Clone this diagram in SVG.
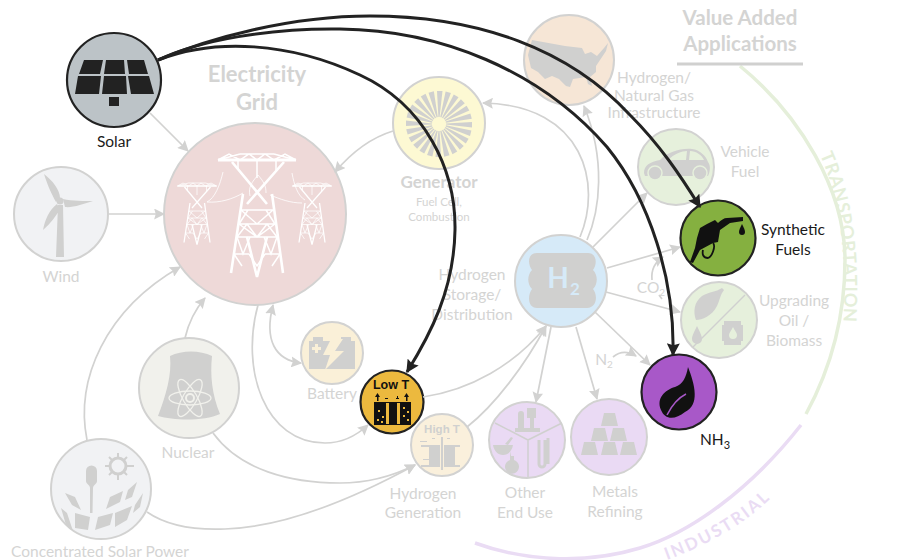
<svg xmlns="http://www.w3.org/2000/svg" xmlns:xlink="http://www.w3.org/1999/xlink" width="907" height="560" viewBox="0 0 907 560">
<style>
text{font-family:"Lato","Open Sans","Liberation Sans",sans-serif;text-anchor:middle}
.l{font-size:15.5px;fill:#d4d4d3}
.k{font-size:15.5px;fill:#1a1a1a}
.h{font-size:22px;font-weight:700;fill:#d4d4d3}
.ic{fill:#d0d0cf}
.n{stroke:#d2d2d1;stroke-width:2}
.d{stroke:#222;stroke-width:2.2}
.g{fill:none;stroke:#d2d2d1;stroke-width:1.7}
.b{fill:none;stroke:#222;stroke-width:3}
.ag{fill:none;stroke-width:3.5}
</style>
<defs>
<marker id="ga" viewBox="0 0 10 10" refX="9" refY="5" markerWidth="11" markerHeight="11" markerUnits="userSpaceOnUse" orient="auto-start-reverse"><path d="M0,0L10,5L0,10L1.5,5z" fill="#d2d2d1"/></marker>
<marker id="ba" viewBox="0 0 10 10" refX="9" refY="5" markerWidth="13" markerHeight="13" markerUnits="userSpaceOnUse" orient="auto"><path d="M0,0L10,5L0,10L1.5,5z" fill="#222"/></marker>
<g id="tower" fill="none" stroke="#fff" stroke-width="1.500">
<path stroke-width="3" d="M-39,6H39"/>
<path d="M-17,0H17M-39,6L-17,0M39,6L17,0M-39,6L-28,0L-17,6L-8,0L0,6L8,0L17,6L28,0L39,6"/>
<path stroke-width="2.600" d="M-25,8L10,50M27,8L-10,50M-14,40L-26,119M15,40L26,119M-10,83L0,123L10,83"/>
<path d="M-16,56H16M-18,70H18M-20,83H20M-23,100H-8M8,100H23M-16,56L0,70L16,56M-18,70L0,83L18,70M-18,70L-9,56M18,70L9,56M-20,83L-10,70L0,83L10,70L20,83M-20,83L-14,100L-7,83M20,83L14,100L7,83M-8,100L0,112L8,100M-23,100L-15,112M23,100L15,112M0,6V24M-19,6V16M19,6V16"/>
</g>
<polygon id="blade" points="-0.600,-7 0.600,-7 3.500,-33 -2,-33"/>
<path id="bar" d="M3,0H14L17,13H0z"/>
</defs>

<g id="arcs">
<path class="ag" stroke="#e5efda" d="M740,66C800,115 845,190 845,260C845,320 830,370 806,414"/>
<path class="ag" stroke="#eadcf4" d="M475,543C530,563 590,563 640,548C690,533 750,490 801,425"/>
<path id="tp" fill="none" d="M820,155C838,195 848,250 843,332"/>
<path id="ip" fill="none" d="M667,560C700,548 740,528 770,499"/>
<text font-size="18" font-weight="700" fill="#e5efda" letter-spacing=".7" style="text-anchor:start"><textPath href="#tp" xlink:href="#tp">TRANSPORTATION</textPath></text>
<text font-size="17" font-weight="700" fill="#eadcf4" letter-spacing="2.300" style="text-anchor:start"><textPath href="#ip" xlink:href="#ip">INDUSTRIAL</textPath></text>
</g>

<g id="heading">
<text class="h" x="257" y="82">Electricity</text><text class="h" x="257" y="110">Grid</text>
<text class="h" x="740" y="25" style="font-size:20.5px">Value Added</text><text class="h" x="740" y="51" style="font-size:20.5px">Applications</text>
<path d="M677,64H803" stroke="#d0d0cf" stroke-width="3"/>
</g>

<g id="solar">
<circle class="d" cx="114" cy="80" r="47" fill="#bcc3c7"/>
<path fill="#222" d="M84,60H103L100,74H79zM106,60H124L125,74H104zM127,60H144L148,74H129zM78,76H101L99,94H75zM104,76H126L127,94H102zM128,76H149L154,94H131zM109,97H119V106H109z"/>
<text class="k" x="114" y="147">Solar</text>
</g>

<g id="grid">
<circle class="n" cx="255" cy="214" r="91" fill="#eed9d8"/>
<use href="#tower" xlink:href="#tower" transform="translate(257,154)"/>
<use href="#tower" xlink:href="#tower" transform="translate(197,183) scale(.5)"/>
<use href="#tower" xlink:href="#tower" transform="translate(312,183) scale(.5)"/>
<path fill="none" stroke="#fff" stroke-width=".8" d="M223,172C220,185 215,198 207,202M292,173C294,185 298,196 305,200M207,202C220,203 233,199 243,193M302,203C290,203 280,199 270,195M258,175C252,182 248,187 250,196M258,175C264,182 266,186 266,193"/>
</g>

<g id="wind">
<circle class="n" cx="61" cy="214" r="47" fill="#f1f2f4"/>
<path class="ic" d="M58,205H63L64,257H56zM44,174C52,180 60,190 60,198L56,202C52,195 47,184 44,174zM63,199C72,201 85,201 93,201C84,204 72,208 65,207zM43,230C45,220 49,210 57,204L60,209C56,216 50,224 43,230z"/>
<circle class="ic" cx="60" cy="201" r="3.5"/>
<text class="l" x="61" y="282">Wind</text>
</g>

<g id="generator">
<circle class="n" cx="439" cy="123" r="46" fill="#fdf9d3"/>
<g class="ic" transform="translate(439,124)">
<use href="#blade" xlink:href="#blade"/><use href="#blade" xlink:href="#blade" transform="rotate(15)"/><use href="#blade" xlink:href="#blade" transform="rotate(30)"/><use href="#blade" xlink:href="#blade" transform="rotate(45)"/><use href="#blade" xlink:href="#blade" transform="rotate(60)"/><use href="#blade" xlink:href="#blade" transform="rotate(75)"/><use href="#blade" xlink:href="#blade" transform="rotate(90)"/><use href="#blade" xlink:href="#blade" transform="rotate(105)"/><use href="#blade" xlink:href="#blade" transform="rotate(120)"/><use href="#blade" xlink:href="#blade" transform="rotate(135)"/><use href="#blade" xlink:href="#blade" transform="rotate(150)"/><use href="#blade" xlink:href="#blade" transform="rotate(165)"/><use href="#blade" xlink:href="#blade" transform="rotate(180)"/><use href="#blade" xlink:href="#blade" transform="rotate(195)"/><use href="#blade" xlink:href="#blade" transform="rotate(210)"/><use href="#blade" xlink:href="#blade" transform="rotate(225)"/><use href="#blade" xlink:href="#blade" transform="rotate(240)"/><use href="#blade" xlink:href="#blade" transform="rotate(255)"/><use href="#blade" xlink:href="#blade" transform="rotate(270)"/><use href="#blade" xlink:href="#blade" transform="rotate(285)"/><use href="#blade" xlink:href="#blade" transform="rotate(300)"/><use href="#blade" xlink:href="#blade" transform="rotate(315)"/><use href="#blade" xlink:href="#blade" transform="rotate(330)"/><use href="#blade" xlink:href="#blade" transform="rotate(345)"/>
</g>
<text class="h" x="439" y="188" style="font-size:17px">Generator</text>
<text class="l" x="439" y="206" style="font-size:11.5px">Fuel Cell,</text><text class="l" x="439" y="221" style="font-size:11.5px">Combustion</text>
</g>

<g id="infrastructure">
<circle class="n" cx="569" cy="60" r="45" fill="#f6e6d6"/>
<polygon class="ic" points="532,40 565,46 582,48 585,54 591,52 597,56 604,48 608,43 606,51 600,60 596,66 596,72 590,77 592,86 588,84 586,77 573,79 570,87 566,86 559,79 552,76 545,79 538,72 531,68 528,55"/>
<text class="l" x="654" y="83">Hydrogen/</text><text class="l" x="654" y="101">Natural Gas</text><text class="l" x="654" y="118">Infrastructure</text>
</g>

<g id="vehicle">
<circle class="n" cx="676" cy="167" r="38" fill="#e6f0dc"/>
<path class="ic" d="M644,173C644,165 650,162 660,160C668,152 680,148 692,149C700,150 706,156 708,162C711,166 710,172 708,176H645z"/>
<path fill="#e6f0dc" d="M668,160C674,154 682,151 687,151L686,160zM690,151C696,151 702,155 704,160H689z"/>
<circle class="ic" cx="655" cy="173" r="7" stroke="#e6f0dc" stroke-width="1.500"/><circle class="ic" cx="700" cy="173" r="7" stroke="#e6f0dc" stroke-width="1.500"/>
<text class="l" x="745" y="157">Vehicle</text><text class="l" x="745" y="177">Fuel</text>
</g>

<g id="synthetic-fuels">
<circle class="d" cx="718" cy="238" r="37.5" fill="#85b040"/>
<path fill="#111" d="M707,224L715,220L718,223C721,220 724,218 727,218L743,217V221L730,223L720,230L718,242L713,243L700,250L693,263L690,262L695,248L697,238L700,228z"/>
<path fill="none" stroke="#111" stroke-width="1.800" d="M713,243C716,246 712,257 708,258C703,258 702,254 703,250"/>
<path fill="#111" d="M742,224C744,228 745,230 745,232A3,3 0 0 1 739,232C739,230 740,228 742,224z"/>
<text class="k" x="793" y="235">Synthetic</text><text class="k" x="793" y="255">Fuels</text>
</g>

<g id="upgrading">
<circle class="n" cx="719" cy="320" r="38" fill="#e6f0dc"/>
<path d="M745,295L693,347" stroke="#d0d0cf" stroke-width="1.500"/>
<path class="ic" d="M722,288C716,292 708,292 702,296C694,302 693,312 696,320C702,320 712,316 717,306C720,300 720,295 724,290z"/>
<path class="ic" d="M697,326C700,332 702,336 702,339A5,5 0 0 1 692,339C692,336 694,332 697,326zM724,321H741V325H743V341H741V345H724V341H722V325H724z"/>
<path fill="#e6f0dc" d="M733,327C735,331 737,333 737,335A4,4 0 0 1 729,335C729,333 731,331 733,327z"/>
<text class="l" x="794" y="306">Upgrading</text><text class="l" x="794" y="326">Oil /</text><text class="l" x="794" y="346">Biomass</text>
</g>

<g id="nh3">
<circle class="d" cx="679" cy="392" r="37.5" fill="#a858c8"/>
<path fill="#111" d="M688,367C695,385 700,405 685,412C675,420 665,420 661,410C656,398 665,390 675,387C683,384 686,378 688,367z"/>
<path fill="none" stroke="#a858c8" stroke-width="1.500" d="M667,415C672,405 678,398 686,394"/>
<text class="k" x="715" y="445">NH<tspan font-size="11" dy="4">3</tspan></text>
</g>

<g id="h2">
<circle class="n" cx="561" cy="281" r="46" fill="#d6eaf8"/>
<path class="ic" d="M537,253H588C596,253 598,263 593,270C598,275 598,284 593,289C598,295 597,308 587,308H537C528,308 527,296 532,289C527,284 527,275 532,270C527,263 528,253 537,253z"/>
<text x="558" y="288" font-size="28" font-weight="700" fill="#d6eaf8">H</text>
<text x="575" y="295" font-size="17" font-weight="700" fill="#d6eaf8">2</text>
<text class="l" x="472" y="280">Hydrogen</text><text class="l" x="472" y="300">Storage/</text><text class="l" x="472" y="320">Distribution</text>
</g>

<g id="battery">
<circle class="n" cx="332" cy="353" r="31" fill="#faf0d8"/>
<path class="ic" d="M309,341V369H355V341H351V337H341V341H323V337H313V341z"/>
<path fill="#faf0d8" d="M331,339H343L335,351H344L325,370L330,355H323zM315,344H318V347H321V350H318V353H315V350H312V347H315z"/>
<text class="l" x="332" y="399">Battery</text>
</g>

<g id="low-t">
<circle class="d" cx="392" cy="402" r="31.5" fill="#ecb93e"/>
<text x="391" y="389" font-size="12.500" font-weight="700" fill="#111" style="font-family:'Liberation Sans',sans-serif">Low T</text>
<path fill="#111" d="M374,402H411V425H374z"/>
<path fill="#ecb93e" d="M386,403H389V424H386zM397,403H400V424H397zM378,410h2v2h-2zM382,416h2v2h-2zM377,419h2v2h-2zM381,421h2v2h-2zM403,407h2v2h-2zM407,411h2v2h-2zM403,415h2v2h-2zM407,419h2v2h-2z"/>
<path fill="#111" d="M377,401V397H375L377.500,393L380,397H378.500V401zM406,401V397H404L406.500,393L409,397H407.500V401zM385,398h3v1h-3zM396,398h3v1h-3zM397,396h1v3h-1z"/>
</g>

<g id="high-t">
<circle class="n" cx="442" cy="445" r="31" fill="#faf0dc"/>
<text x="442" y="433" font-size="11.500" font-weight="700" fill="#d0d0cf" style="font-family:'Liberation Sans',sans-serif">High T</text>
<path class="ic" d="M429,445H440V467H429zM444,445H455V467H444zM441,437h2v33h-2zM421,445H429V447H421zM455,445H460V447H455zM421,465H429V467H421zM455,465H460V467H455zM420,441h7v1h-7zM423,459h7v1h-7zM432,438h3v1h-3zM447,438h3v1h-3z"/>
<text class="l" x="423" y="499">Hydrogen</text><text class="l" x="423" y="518">Generation</text>
</g>

<g id="nuclear">
<circle class="n" cx="189" cy="388" r="50" fill="#f1f1ec"/>
<path class="ic" d="M170,356C182,350 200,350 212,356C210,375 212,395 220,414C205,421 175,421 158,416C166,395 172,375 170,356z"/>
<g fill="none" stroke="#f1f1ec" stroke-width="1.300"><ellipse cx="190" cy="398" rx="21" ry="7"/><ellipse cx="190" cy="398" rx="21" ry="7" transform="rotate(60 190 398)"/><ellipse cx="190" cy="398" rx="21" ry="7" transform="rotate(120 190 398)"/><circle cx="190" cy="398" r="4" stroke-width="2"/></g>
<text class="l" x="188" y="458">Nuclear</text>
</g>

<g id="csp">
<circle class="n" cx="101" cy="489" r="50" fill="#f1f2f4"/>
<path class="ic" d="M86,471A5.500,5.500 0 0 1 97,471V481C97,484 93,485 93,488L92.500,513H90L90,488C90,485 86,484 86,481z"/>
<path class="ic" d="M65,493L75,497L81,510L72,505zM61,508L67,513L73,531L66,525zM75,513L90,517L88,530L75,528zM98,517L113,513L110,525L95,530zM115,513L132,506L127,520L115,527zM110,497L123,491L120,502L106,509zM128,490L137,482L132,497L125,500zM135,505L143,493L140,507L133,513z"/>
<circle cx="118" cy="466" r="8" fill="none" stroke="#d0d0cf" stroke-width="3"/>
<path fill="none" stroke="#d0d0cf" stroke-width="2" d="M118,453V458M118,474V480M105,466H110M126,466H134M109,457L112,460M124,472L127,475M127,457L124,460M112,472L109,475"/>
<text class="l" x="100" y="557">Concentrated Solar Power</text>
</g>

<g id="other-end-use">
<circle class="n" cx="527" cy="440" r="38" fill="#eadaf4"/>
<path d="M528,440L495,423M528,440L562,423M528,440V477" stroke="#d0d0cf" stroke-width="1.500" fill="none"/>
<path class="ic" d="M515,432V428H518V414A2,2 0 0 1 524,414V428H530V418H527V408H536V418H534V428H540V432z"/>
<path class="ic" d="M493,445H513C512,451 508,455 503,455C498,455 494,451 493,445zM505,444L511,437L513,438L508,445zM511,451V456H514V460A7,7 0 1 1 510,460V456z"/>
<path fill="none" stroke="#d0d0cf" stroke-width="3" d="M539,440V464A3,3 0 0 0 545,464V440M548,438V464"/>
<text class="l" x="525" y="498">Other</text><text class="l" x="525" y="518">End Use</text>
</g>

<g id="metals">
<circle class="n" cx="609" cy="437" r="38" fill="#eadaf4"/>
<g class="ic"><use href="#bar" xlink:href="#bar" x="581" y="442"/><use href="#bar" xlink:href="#bar" x="601" y="442"/><use href="#bar" xlink:href="#bar" x="620" y="442"/><use href="#bar" xlink:href="#bar" x="591" y="428"/><use href="#bar" xlink:href="#bar" x="610" y="428"/><use href="#bar" xlink:href="#bar" x="601" y="413"/></g>
<text class="l" x="615" y="497">Metals</text><text class="l" x="615" y="517">Refining</text>
</g>

<g id="connectors">
<path class="g" marker-end="url(#ga)" d="M150,113L188,151"/>
<path class="g" marker-end="url(#ga)" d="M109,214H164"/>
<path class="g" marker-end="url(#ga)" d="M393,131C370,138 352,152 335,172"/>
<path class="g" marker-end="url(#ga)" d="M580,237C602,185 585,105 483,103"/>
<path class="g" marker-end="url(#ga)" d="M587,240C600,210 606,160 584,106"/>
<path class="g" marker-end="url(#ga)" d="M593,247L647,193"/>
<path class="g" marker-end="url(#ga)" d="M607,268L680,247"/>
<path class="g" marker-end="url(#ga)" d="M606,292L680,312"/>
<path class="g" marker-end="url(#ga)" d="M595,312L650,365"/>
<path class="g" marker-end="url(#ga)" d="M576,327L597,399"/>
<path class="g" marker-end="url(#ga)" d="M551,327L536,402"/>
<path class="g" marker-end="url(#ga)" d="M423,397C470,390 515,365 546,326"/>
<path class="g" marker-end="url(#ga)" d="M467,427C495,405 525,365 546,326"/>
<path class="g" marker-end="url(#ga)" d="M185,338C188,325 193,312 205,298"/>
<path class="g" marker-end="url(#ga)" d="M87,440C75,380 105,310 180,267"/>
<path class="g" marker-end="url(#ga)" marker-start="url(#ga)" d="M273,305C264,340 275,360 301,363"/>
<path class="g" marker-end="url(#ga)" d="M258,305C240,370 265,443 325,443C340,443 355,437 368,425"/>
<path class="g" marker-end="url(#ga)" d="M213,433C240,470 290,483 340,483C370,483 395,475 415,465"/>
<path class="g" marker-end="url(#ga)" d="M147,512C170,528 200,530 225,529C290,527 360,495 415,465"/>
<path class="g" marker-end="url(#ga)" d="M652,280C651,270 655,262 663,257"/>
<path class="g" marker-end="url(#ga)" d="M613,357C620,351 628,351 636,356"/>
<path class="g" d="M659,295L662,299"/>
<path class="b" marker-end="url(#ba)" d="M158,60C215,38 290,42 360,75C425,105 456,170 455,230C454,290 430,335 407,372"/>
<path class="b" marker-end="url(#ba)" d="M158,60C200,40 270,28 340,29C440,30 540,70 607,147C650,200 675,280 673,355"/>
<path class="b" marker-end="url(#ba)" d="M158,60C210,38 290,16 370,16C480,16 570,50 630,115C660,145 680,175 700,207"/>
</g>

<g id="gas-labels">
<text class="l" x="651" y="293">CO<tspan font-size="10" dy="3">2</tspan></text>
<text class="l" x="604" y="365">N<tspan font-size="10" dy="3">2</tspan></text>
</g>
</svg>
